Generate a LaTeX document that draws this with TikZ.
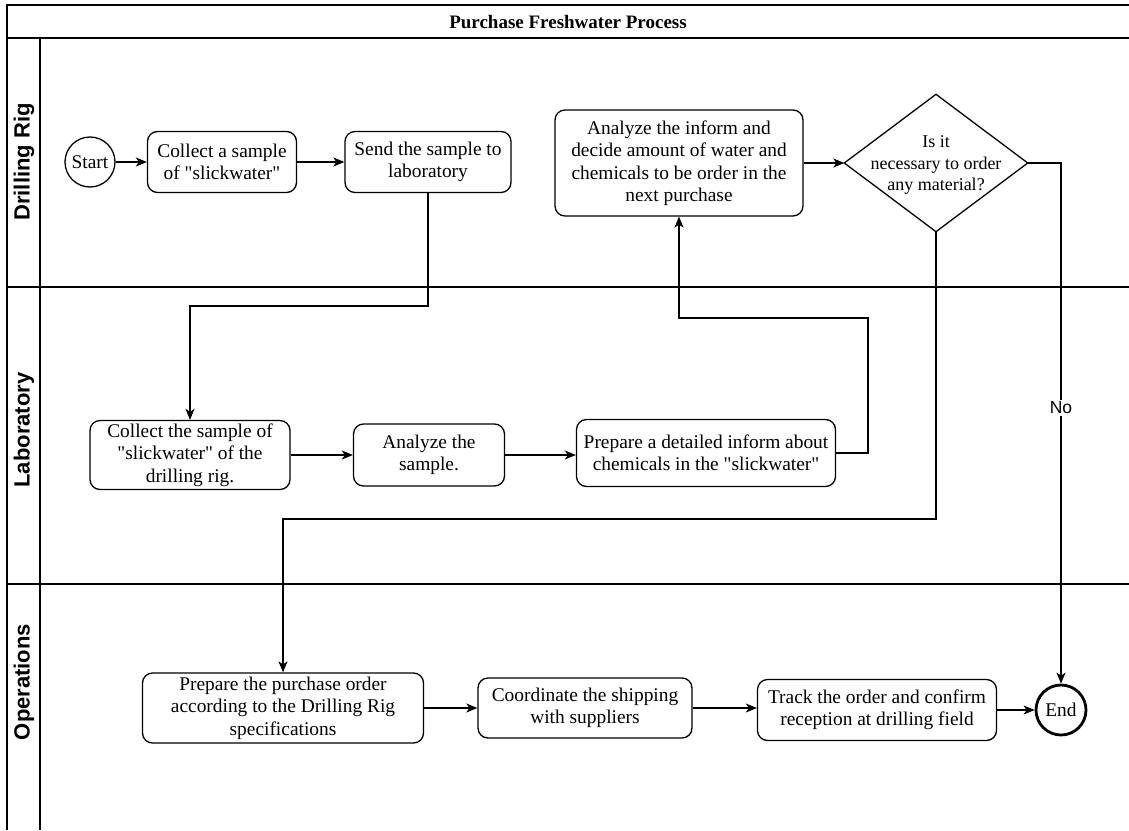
\documentclass[tikz,border=0pt]{standalone}
\usepackage{fontspec}
\setmainfont{Liberation Serif}[Ligatures=TeXOff]
\newfontfamily\lanefont{Liberation Sans}
\usetikzlibrary{arrows.meta}
\begin{document}
\begin{tikzpicture}[x=1pt,y=-1pt,
  lane/.style={line width=1.8pt},
  box/.style={draw,line width=1.3pt,rounded corners=10pt,align=center,inner sep=1pt,font=\fontsize{19.4}{22.5}\selectfont},
  ev/.style={draw,circle,line width=1.3pt,font=\fontsize{19.4}{22}\selectfont,inner sep=0pt,minimum size=50pt},
  conn/.style={line width=1.3pt,-{Stealth[length=11pt,width=9pt,inset=3pt]}},
  lanelabel/.style={rotate=90,font=\lanefont\bfseries\fontsize{22}{26}\selectfont},
]
\useasboundingbox (0,0) rectangle (1129,830);
% pool and lanes
\draw[lane] (1129,5) -- (7,5) -- (7,830);
\draw[lane] (7,38) -- (1129,38);
\draw[lane] (40,38) -- (40,830);
\draw[lane] (7,287) -- (1129,287);
\draw[lane] (7,584) -- (1129,584);
\node[font=\bfseries\fontsize{19}{22}\selectfont] (title) at (568,22) {Purchase Freshwater Process};
\node[lanelabel] (l1) at (24,162) {Drilling Rig};
\node[lanelabel] (l2) at (24,430) {Laboratory};
\node[lanelabel] (l3) at (24,682) {Operations};
% Drilling Rig
\node[ev] (start) at (90,162) {Start};
\node[box,minimum width=149pt,minimum height=61pt] (c1) at (222,162) {Collect a sample\\of "slickwater"};
\node[box,minimum width=166pt,minimum height=61pt] (s1) at (428,162) {Send the sample to\\laboratory};
\node[box,minimum width=248pt,minimum height=106pt] (a1) at (679,163) {Analyze the inform and\\decide amount of water and\\chemicals to be order in the\\next purchase};
\node[minimum width=183pt,minimum height=137pt,inner sep=0pt] (d1) at (936,163) {};
\draw[line width=1.3pt] (d1.west) -- (d1.north) -- (d1.east) -- (d1.south) -- cycle;
\node[align=center,font=\fontsize{18}{21.5}\selectfont] (d1t) at (936,165) {Is it\\necessary to order\\any material?};
% Laboratory
\node[box,minimum width=200pt,minimum height=69pt] (c2) at (190,455) {Collect the sample of\\"slickwater" of the\\drilling rig.};
\node[box,minimum width=151pt,minimum height=62pt] (an) at (429,455) {Analyze the\\sample.};
\node[box,minimum width=259pt,minimum height=67pt] (p1) at (706,453) {Prepare a detailed inform about\\chemicals in the "slickwater"};
% Operations
\node[box,minimum width=281pt,minimum height=70pt] (po) at (283,708) {Prepare the purchase order\\according to the Drilling Rig\\specifications};
\node[box,minimum width=214pt,minimum height=60pt] (cs) at (585,708) {Coordinate the shipping\\with suppliers};
\node[box,minimum width=239pt,minimum height=61pt] (tr) at (877,710) {Track the order and confirm\\reception at drilling field};
\node[ev,line width=2.8pt] (end) at (1061,710) {End};
% junction coordinates
\coordinate (j1) at (0,306);
\coordinate (j2) at (868,318);
\coordinate (j3) at (0,519);
% connectors
\draw[conn] (start) -- (c1);
\draw[conn] (c1) -- (s1);
\draw[conn] (a1.east) -- (d1.west);
\draw[conn] (s1.south) -- (s1.south|-j1) -| (c2.north);
\draw[conn] (c2) -- (an);
\draw[conn] (an.east) -- (an.east-|p1.west);
\draw[conn] (p1.east) -| (j2) -| (a1.south);
\draw[conn] (d1.south) -- (d1.south|-j3) -| (po.north);
\draw[conn] (d1.east) -| node[pos=0.735,fill=white,inner sep=2pt,font=\lanefont\fontsize{17.5}{20}\selectfont] (no) {No} (end.north);
\draw[conn] (po.east) -- (po.east-|cs.west);
\draw[conn] (cs.east) -- (cs.east-|tr.west);
\draw[conn] (tr.east) -- (tr.east-|end.west);
\end{tikzpicture}
\end{document}
